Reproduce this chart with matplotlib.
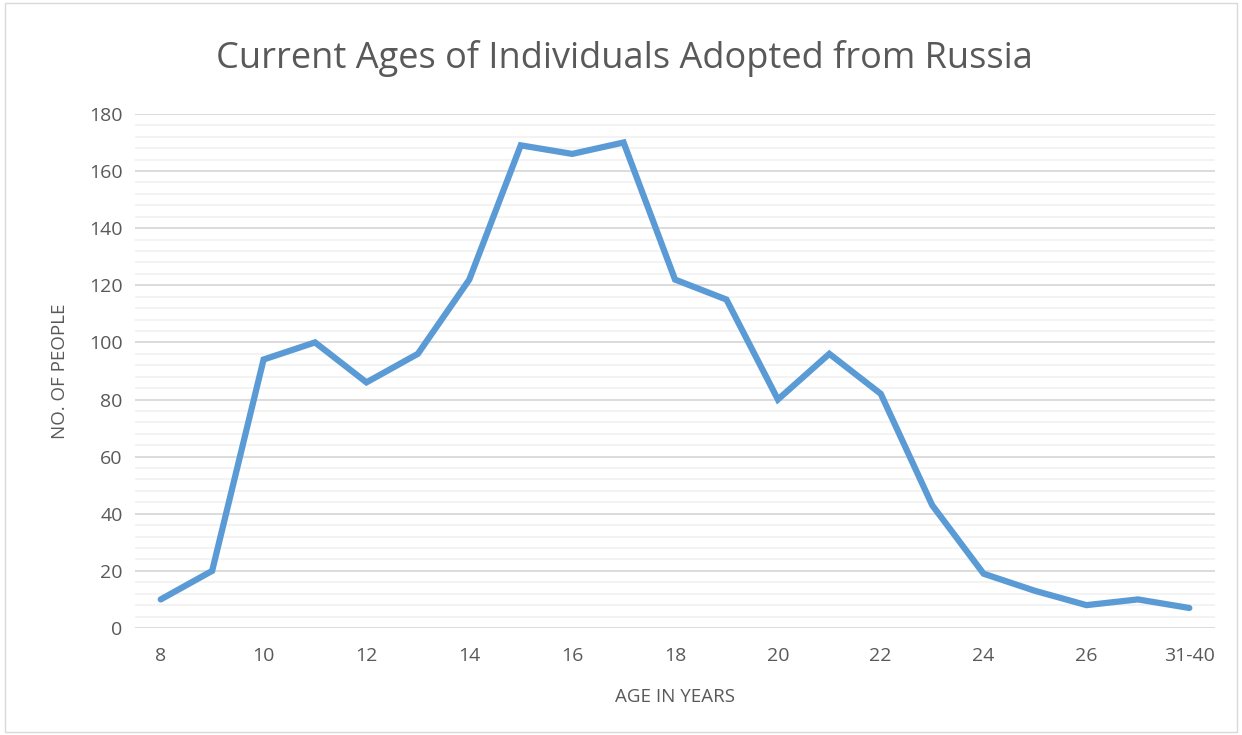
import matplotlib.pyplot as plt
from matplotlib.patches import Rectangle
from matplotlib.ticker import MultipleLocator

# age groups and head counts
ages = ['8', '9', '10', '11', '12', '13', '14', '15', '16', '17', '18',
        '19', '20', '21', '22', '23', '24', '25', '26', '27', '31-40']
people = [10, 20, 94, 100, 86, 96, 122, 169, 166, 170, 122,
          115, 80, 96, 82, 43, 19, 13, 8, 10, 7]

plt.rcParams['font.family'] = ['Open Sans', 'DejaVu Sans']
grey = '#595959'

fig = plt.figure(figsize=(12.42, 7.35), dpi=100)
ax = fig.add_axes([0.1087, 0.1456, 0.8696, 0.6994])

x = list(range(len(ages)))
ax.plot(x, people, color='#5b9bd5', linewidth=4.5,
        solid_capstyle='round', solid_joinstyle='miter', zorder=3)

ax.set_xlim(-0.5, len(ages) - 0.5)
ax.set_ylim(0, 180)
ax.set_xticks(x[::2])
ax.set_xticklabels(ages[::2])
ax.yaxis.set_major_locator(MultipleLocator(20))
ax.yaxis.set_minor_locator(MultipleLocator(4))

ax.grid(axis='y', which='major', color='#d9d9d9', linewidth=1.3)
ax.grid(axis='y', which='minor', color='#f2f2f2', linewidth=1.3)
ax.set_axisbelow(True)
for s in ax.spines.values():
    s.set_visible(False)
ax.tick_params(which='both', length=0, labelsize=14, colors=grey)
ax.tick_params(axis='x', pad=14)
ax.tick_params(axis='y', pad=9)

ax.set_xlabel('AGE IN YEARS', fontsize=13.5, color=grey, labelpad=16)
ax.set_ylabel('NO. OF PEOPLE', fontsize=13.5, color=grey, labelpad=14)

fig.text(0.503, 0.921, 'Current Ages of Individuals Adopted from Russia',
         ha='center', va='center', fontsize=26, color=grey)

# light frame around the chart area
fig.patches.append(Rectangle((0.004, 0.004), 0.992, 0.992, transform=fig.transFigure,
                             fill=False, edgecolor='#d9d9d9', linewidth=1))

fig.savefig('out.png', dpi=100)
